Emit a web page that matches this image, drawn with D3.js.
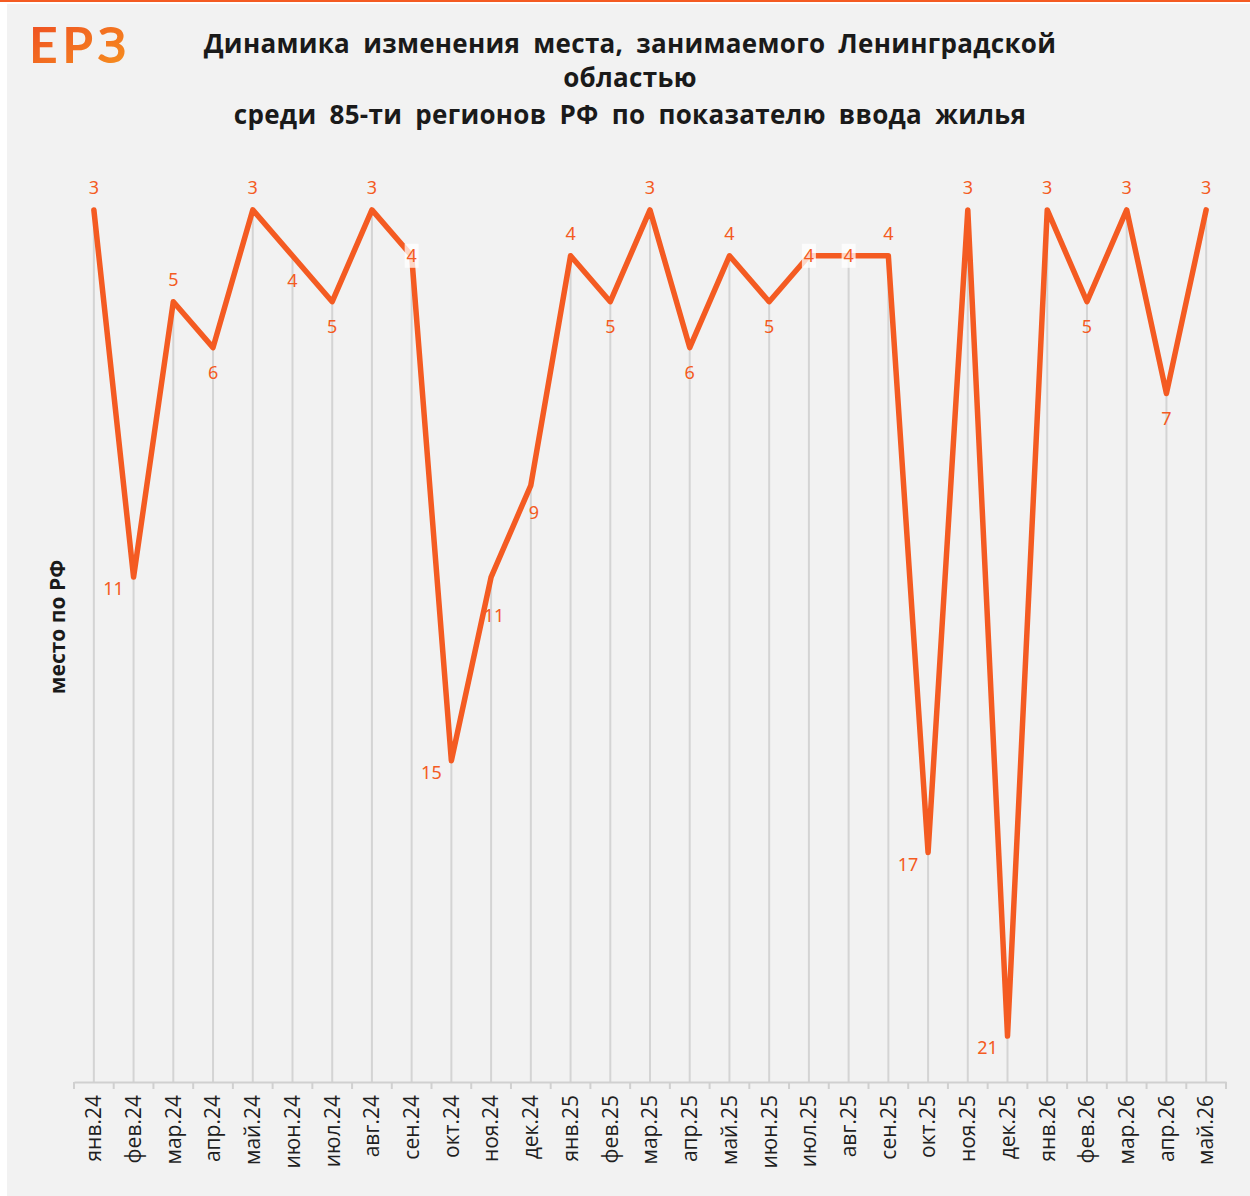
<!DOCTYPE html>
<html>
<head>
<meta charset="utf-8">
<title>Ленинградская область — место по вводу жилья</title>
<script src="https://cdn.jsdelivr.net/npm/d3@7"></script>
<style>
  body { margin: 0; background: #fff; }
  svg { display: block; }
</style>
</head>
<body>
<svg id="chart"></svg>
<script>
// data
var months = ["янв.24","фев.24","мар.24","апр.24","май.24","июн.24","июл.24","авг.24","сен.24","окт.24","ноя.24","дек.24",
              "янв.25","фев.25","мар.25","апр.25","май.25","июн.25","июл.25","авг.25","сен.25","окт.25","ноя.25","дек.25",
              "янв.26","фев.26","мар.26","апр.26","май.26"];
var places = [3,11,5,6,3,4,5,3,4,15,11,9, 4,5,3,6,4,5,4,4,4,17,3,21, 3,5,3,7,3];
// where each data label sits relative to its point
var labelPlace = ["top","left","top","bottom","top","bottom","bottom","top","center","left","below-right","right",
                  "top","bottom","top","bottom","top","bottom","center","center","top","left","top","left",
                  "top","bottom","top","bottom","top"];
var titleLines = ["Динамика изменения места, занимаемого Ленинградской", "областью", "среди 85-ти регионов РФ по показателю ввода жилья"];

var width = 1250, height = 1196,
    orange = "#f45b22",
    margin = {top: 164, left: 74, right: 24, bottom: 114};

var svg = d3.select("#chart").attr("width", width).attr("height", height);

// page frame
svg.append("rect").attr("x", 0).attr("y", 0).attr("width", width).attr("height", 2).attr("fill", orange);
svg.append("rect").attr("x", 7).attr("y", 4).attr("width", width - 7).attr("height", height - 4).attr("fill", "#f2f2f2");

// logo
var grad = svg.append("defs").append("linearGradient").attr("id", "logoGrad")
    .attr("x1", "0%").attr("y1", "0%").attr("x2", "100%").attr("y2", "100%");
grad.append("stop").attr("offset", "0%").attr("stop-color", "#ee4a23");
grad.append("stop").attr("offset", "100%").attr("stop-color", "#f7951e");
svg.append("text").attr("x", 29).attr("y", 63)
    .style("font-family", "Lato, 'Noto Sans', sans-serif").style("font-size", "50px").style("font-weight", 700)
    .style("letter-spacing", "4.5px")
    .attr("fill", "url(#logoGrad)").text("ЕРЗ");

// title
svg.append("g").selectAll("text").data(titleLines).enter().append("text")
    .attr("x", 630).attr("y", function(d, i) { return [53, 87, 124][i]; })
    .attr("text-anchor", "middle")
    .style("font-family", "'Open Sans', sans-serif").style("font-size", "26px").style("font-weight", 700)
    .style("word-spacing", "6px").style("letter-spacing", "0.3px")
    .attr("fill", "#1a1a1a").text(function(d) { return d; });

// scales
var xb = d3.scaleBand().domain(months).range([margin.left, width - margin.right]);
var x = function(m) { return xb(m) + xb.bandwidth() / 2; };
var y = d3.scaleLinear().domain([2, 22]).range([margin.top, height - margin.bottom]);
var axisY = height - margin.bottom;

var data = months.map(function(m, i) { return {m: m, v: places[i], pos: labelPlace[i]}; });

// drop lines
svg.append("g").selectAll("line").data(data).enter().append("line")
    .attr("x1", function(d) { return x(d.m); }).attr("x2", function(d) { return x(d.m); })
    .attr("y1", function(d) { return y(d.v); }).attr("y2", axisY)
    .attr("stroke", "#d4d4d4").attr("stroke-width", 2);

// x axis
var gx = svg.append("g").attr("transform", "translate(0," + axisY + ")")
    .call(d3.axisBottom(xb).tickSize(0).tickPadding(0));
gx.select(".domain").attr("stroke", "#d0d0d0").attr("stroke-width", 2);
gx.selectAll(".tick text")
    .attr("transform", "rotate(-90)")
    .attr("text-anchor", "end")
    .attr("x", -13).attr("y", 0).attr("dy", "0.35em")
    .style("font-family", "'Open Sans', sans-serif").style("font-size", "21px")
    .attr("fill", "#1f1f1f");
// ticks between categories
gx.selectAll(".sep").data(months.concat([null])).enter().append("line")
    .attr("class", "sep")
    .attr("x1", function(d) { return d ? xb(d) : xb.range()[1]; })
    .attr("x2", function(d) { return d ? xb(d) : xb.range()[1]; })
    .attr("y1", 0).attr("y2", 7)
    .attr("stroke", "#d0d0d0").attr("stroke-width", 2);

// y axis title
svg.append("text")
    .attr("transform", "translate(65," + 627 + ")rotate(-90)")
    .attr("text-anchor", "middle")
    .style("font-family", "'Open Sans', sans-serif").style("font-size", "21px").style("font-weight", 700)
    .attr("fill", "#1a1a1a").text("место по РФ");

// line
var line = d3.line().x(function(d) { return x(d.m); }).y(function(d) { return y(d.v); });
svg.append("path").datum(data).attr("d", line)
    .attr("fill", "none").attr("stroke", orange).attr("stroke-width", 5.5)
    .attr("stroke-linejoin", "round").attr("stroke-linecap", "round");

// data labels
var off = {
  "top": [0, -22], "bottom": [0, 25], "center": [0, 0],
  "left": [-20, 12], "right": [3, 27], "below-right": [3, 39]
};
var lab = svg.append("g").selectAll("g").data(data).enter().append("g")
    .attr("transform", function(d) {
      var o = off[d.pos];
      return "translate(" + (x(d.m) + o[0]) + "," + (y(d.v) + o[1]) + ")";
    });
lab.filter(function(d) { return d.pos === "center"; }).append("rect")
    .attr("x", -7).attr("y", -12).attr("width", 14).attr("height", 24)
    .attr("fill", "#fff").attr("fill-opacity", 0.75);
lab.append("text")
    .attr("text-anchor", "middle").attr("dy", "0.35em")
    .style("font-family", "'Noto Sans', sans-serif").style("font-size", "18px")
    .attr("fill", orange).text(function(d) { return d.v; });
</script>
</body>
</html>
